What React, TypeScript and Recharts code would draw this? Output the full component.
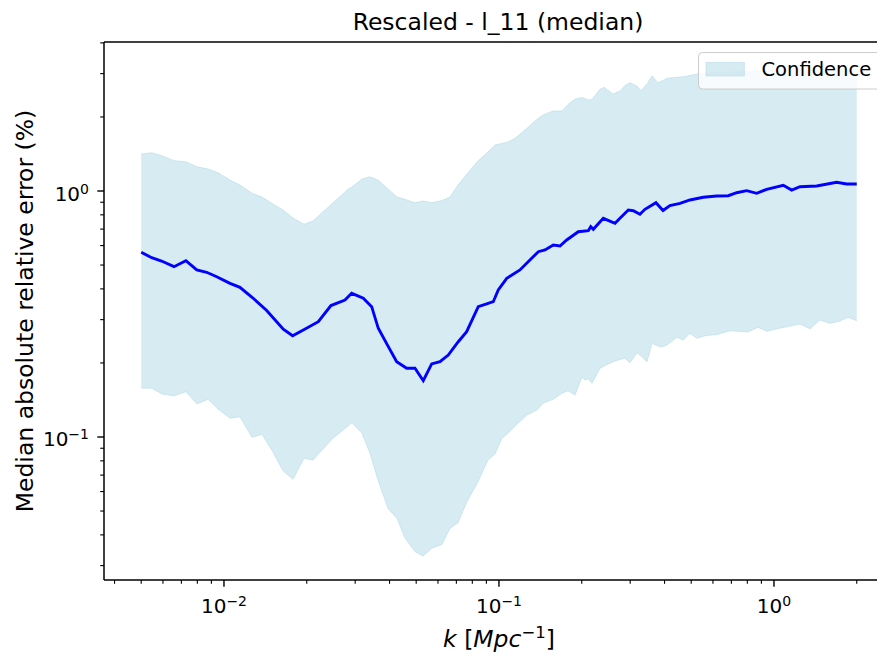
import React from 'react';
import { ComposedChart, Area, Line, XAxis, YAxis, Legend, ReferenceLine } from 'recharts';

// ---- data ----
const bandK = [
  0.005, 0.00546, 0.00595, 0.00658, 0.00727, 0.00798, 0.00875, 0.00951, 0.01052, 0.01143,
  0.01264, 0.01375, 0.01507, 0.01639, 0.01782, 0.01954, 0.02107, 0.02272, 0.02491, 0.02824,
  0.02921, 0.03176, 0.03396, 0.03631, 0.03949, 0.04257, 0.04551, 0.0495, 0.05292, 0.05706,
  0.06204, 0.06634, 0.07095, 0.07648, 0.08386, 0.0912, 0.09671, 0.1025, 0.1078, 0.1143,
  0.1264, 0.1375, 0.1445, 0.1572, 0.1695, 0.1782, 0.189, 0.2003, 0.2055, 0.2107,
  0.2179, 0.233, 0.2409, 0.2598, 0.2754, 0.2872, 0.2995, 0.3176, 0.3284, 0.3453,
  0.3601, 0.3786, 0.3915, 0.4083, 0.4439, 0.4668, 0.495, 0.5248, 0.5612, 0.6258,
  0.6918, 0.8043, 0.8746, 0.943, 1.0254, 1.2433, 1.352, 1.4699, 1.598, 1.7088,
  1.858, 2.0,
];
const bandUpper = [
  1.414, 1.431, 1.392, 1.328, 1.315, 1.255, 1.229, 1.187, 1.108, 1.058,
  0.979, 0.945, 0.885, 0.837, 0.777, 0.732, 0.755, 0.816, 0.894, 1.016,
  1.038, 1.119, 1.143, 1.108, 1.019, 0.945, 0.925, 0.896, 0.911, 0.896,
  0.915, 0.945, 1.058, 1.172, 1.324, 1.44, 1.538, 1.56, 1.582, 1.637,
  1.798, 1.956, 2.037, 2.115, 2.115, 2.247, 2.366, 2.399, 2.377, 2.344,
  2.355, 2.591, 2.64, 2.479, 2.55, 2.685, 2.756, 2.672, 2.557, 2.723,
  2.935, 2.756, 2.801, 2.872, 2.899, 2.915, 2.948, 2.99, 3.018, 3.032,
  3.046, 3.061, 3.075, 3.075, 3.09, 3.1, 3.1, 3.1, 3.1, 3.1,
  3.1, 3.1,
];
const bandLower = [
  0.1582, 0.1578, 0.1496, 0.1472, 0.1528, 0.1362, 0.1423, 0.13, 0.1191, 0.1209,
  0.0997, 0.1026, 0.0869, 0.0729, 0.0673, 0.0819, 0.0806, 0.0886, 0.0988, 0.1108,
  0.1143, 0.1035, 0.0858, 0.0669, 0.0512, 0.0467, 0.0388, 0.0342, 0.0328, 0.0353,
  0.0366, 0.0425, 0.0448, 0.0546, 0.0658, 0.0806, 0.0853, 0.0988, 0.1035, 0.1108,
  0.1229, 0.1288, 0.1371, 0.1423, 0.1506, 0.1542, 0.1482, 0.1748, 0.1705, 0.1726,
  0.1653, 0.1902, 0.1943, 0.2024, 0.2065, 0.2089, 0.2005, 0.2202, 0.2135, 0.2024,
  0.2403, 0.2344, 0.2322, 0.2366, 0.2542, 0.2479, 0.2639, 0.2519, 0.2581, 0.2615,
  0.2704, 0.2672, 0.2792, 0.2689, 0.2755, 0.2879, 0.2755, 0.2989, 0.2899, 0.2942,
  0.3066, 0.2971,
];
const medianK = [
  0.005, 0.00546, 0.00593, 0.00658, 0.00727, 0.00796, 0.00865, 0.00941, 0.01052, 0.01143,
  0.01278, 0.0143, 0.01643, 0.01777, 0.01943, 0.02203, 0.02449, 0.02754, 0.02913, 0.03211,
  0.03444, 0.0364, 0.03959, 0.04246, 0.04617, 0.0495, 0.05305, 0.05692, 0.06102, 0.0654,
  0.07112, 0.07629, 0.08407, 0.0902, 0.09535, 0.0994, 0.1067, 0.1192, 0.139, 0.147,
  0.1576, 0.1667, 0.1763, 0.1942, 0.2113, 0.2156, 0.2203, 0.2395, 0.2642, 0.2754,
  0.2953, 0.3079, 0.3256, 0.3395, 0.3723, 0.3949, 0.4185, 0.4553, 0.495, 0.5532,
  0.6189, 0.6821, 0.7318, 0.7957, 0.8651, 0.9408, 1.081, 1.16, 1.2433, 1.43,
  1.69, 1.838, 2.0,
];
const medianV = [
  0.5634, 0.5357, 0.5193, 0.4924, 0.5208, 0.4775, 0.4673, 0.4484, 0.4214, 0.406,
  0.3664, 0.3267, 0.2741, 0.2581, 0.2722, 0.2942, 0.3423, 0.3604, 0.3838, 0.3664,
  0.3386, 0.2766, 0.2329, 0.2024, 0.1902, 0.1902, 0.1694, 0.1981, 0.2024, 0.2154,
  0.244, 0.268, 0.3386, 0.3473, 0.3548, 0.3959, 0.4417, 0.4775, 0.5666, 0.5757,
  0.6033, 0.5976, 0.6323, 0.6832, 0.6896, 0.7159, 0.6988, 0.7745, 0.7392, 0.7745,
  0.837, 0.8316, 0.8039, 0.8424, 0.8962, 0.8332, 0.873, 0.8913, 0.9193, 0.9427,
  0.9543, 0.957, 0.9842, 1.003, 0.9787, 1.016, 1.055, 1.009, 1.041, 1.048,
  1.085, 1.068, 1.068,
];

const xMajorTicks = [0.01, 0.1, 1];
const xTickExponents = ['\u22122', '\u22121', '0'];
const xMinorTicks = [
  0.004, 0.005, 0.006, 0.007, 0.008, 0.009,
  0.02, 0.03, 0.04, 0.05, 0.06, 0.07, 0.08, 0.09,
  0.2, 0.3, 0.4, 0.5, 0.6, 0.7, 0.8, 0.9,
  2,
];
const yMajorTicks = [0.1, 1];
const yTickExponents = ['\u22121', '0'];
const yMinorTicks = [
  0.03, 0.04, 0.05, 0.06, 0.07, 0.08, 0.09,
  0.2, 0.3, 0.4, 0.5, 0.6, 0.7, 0.8, 0.9,
  2, 3, 4,
];

const X_DOMAIN = [0.003662, 2.732];
const Y_DOMAIN = [0.02622, 4.034];

const titleText = 'Rescaled - l_11 (median)';
const yLabelText = 'Median absolute relative error (%)';
const legendText = 'Confidence';

const bandData = bandK.map((k, i) => ({ k, range: [bandLower[i], bandUpper[i]] }));
const medianData = medianK.map((k, i) => ({ k, v: medianV[i] }));

const FONT = '"DejaVu Sans", sans-serif';
const FILL = '#add8e6';

const findMajor = (arr: number[], v: number) => arr.findIndex((m) => Math.abs(m - v) / m < 1e-9);

const XTick = (props: any) => {
  const { x, y, payload } = props;
  const i = findMajor(xMajorTicks, payload.value);
  const major = i >= 0;
  return (
    <g>
      <line x1={x} x2={x} y1={y} y2={y + (major ? 6.7 : 3.8)} stroke="#000" strokeWidth={major ? 1.4 : 1.1} />
      {major && (
        <text x={x} y={y + 33} textAnchor="middle" fontFamily={FONT} fontSize={20} fill="#000">
          10<tspan dy={-7} fontSize={14}>{xTickExponents[i]}</tspan>
        </text>
      )}
    </g>
  );
};

const YTick = (props: any) => {
  const { x, y, payload } = props;
  const i = findMajor(yMajorTicks, payload.value);
  const major = i >= 0;
  return (
    <g>
      <line x1={x} x2={x - (major ? 6.7 : 3.8)} y1={y} y2={y} stroke="#000" strokeWidth={major ? 1.4 : 1.1} />
      {major && (
        <text x={x - 15} y={y + 9.5} textAnchor="end" fontFamily={FONT} fontSize={20} fill="#000">
          10<tspan dy={-7} fontSize={14}>{yTickExponents[i]}</tspan>
        </text>
      )}
    </g>
  );
};

const TitleLabel = () => (
  <text x={490} y={21.5} textAnchor="middle" fontFamily={FONT} fontSize={23.5} fill="#000">
    {titleText}
  </text>
);

const XLabel = () => (
  <text x={491} y={639} textAnchor="middle" fontFamily={FONT} fontSize={23.5} fill="#000">
    <tspan fontStyle="italic">k</tspan>
    <tspan> [</tspan>
    <tspan fontStyle="italic">Mpc</tspan>
    <tspan dy={-9} fontSize={16.5}>{'\u22121'}</tspan>
    <tspan dy={9}>]</tspan>
  </text>
);

const YLabel = () => (
  <text
    transform="translate(24.5,303) rotate(-90)"
    x={0}
    y={0}
    textAnchor="middle"
    fontFamily={FONT}
    fontSize={23.5}
    fill="#000"
  >
    {yLabelText}
  </text>
);

const LegendBox = () => (
  <svg width={186} height={39} style={{ display: 'block', overflow: 'visible' }}>
    <rect x={0.5} y={0.5} width={184} height={36.5} rx={4} ry={4} fill="#fff" fillOpacity={0.8} stroke="#cccccc" strokeWidth={1} />
    <rect x={8} y={10.5} width={38.4} height={13.4} fill={FILL} fillOpacity={0.5} stroke={FILL} strokeOpacity={0.5} />
    <text x={63.5} y={24.3} fontFamily={FONT} fontSize={19.5} fill="#000">
      {legendText}
    </text>
  </svg>
);

export default function App() {
  const xTicks = [...xMinorTicks, ...xMajorTicks].sort((a, b) => a - b);
  const yTicks = [...yMinorTicks, ...yMajorTicks].sort((a, b) => a - b);
  return (
    <div style={{ width: 877, height: 646, overflow: 'hidden', position: 'relative', background: '#fff' }}>
      <ComposedChart width={900} height={646} margin={{ top: 34, right: 14, bottom: 14, left: 0 }}>
        <XAxis
          dataKey="k"
          type="number"
          scale="log"
          domain={X_DOMAIN}
          allowDataOverflow
          ticks={xTicks}
          interval={0}
          tickSize={0}
          tickMargin={0}
          tickLine={false}
          tick={<XTick />}
          height={60}
          axisLine={{ stroke: '#000', strokeWidth: 1.5 }}
          label={{ content: () => <XLabel /> }}
        />
        <YAxis
          type="number"
          scale="log"
          domain={Y_DOMAIN}
          allowDataOverflow
          ticks={yTicks}
          interval={0}
          tickSize={0}
          tickMargin={0}
          tickLine={false}
          tick={<YTick />}
          width={96}
          axisLine={{ stroke: '#000', strokeWidth: 1.5 }}
          label={{ content: () => <YLabel /> }}
        />
        <Area
          data={bandData}
          dataKey="range"
          type="linear"
          fill={FILL}
          fillOpacity={0.5}
          stroke={FILL}
          strokeOpacity={0.5}
          strokeWidth={1}
          isAnimationActive={false}
          activeDot={false}
          dot={false}
          name={legendText}
        />
        <Line
          data={medianData}
          dataKey="v"
          type="linear"
          stroke="#0000ff"
          strokeWidth={2.9}
          dot={false}
          activeDot={false}
          isAnimationActive={false}
          legendType="none"
        />
        <ReferenceLine
          y={Y_DOMAIN[1]}
          stroke="#000"
          strokeWidth={1.5}
          ifOverflow="visible"
          label={{ content: () => <TitleLabel /> }}
        />
        <ReferenceLine x={X_DOMAIN[1]} stroke="#000" strokeWidth={1.5} ifOverflow="visible" />
        <Legend
          layout="vertical"
          align="center"
          verticalAlign="middle"
          content={() => <LegendBox />}
          wrapperStyle={{ left: 690, top: 44, width: 186, height: 39 }}
        />
      </ComposedChart>
    </div>
  );
}
